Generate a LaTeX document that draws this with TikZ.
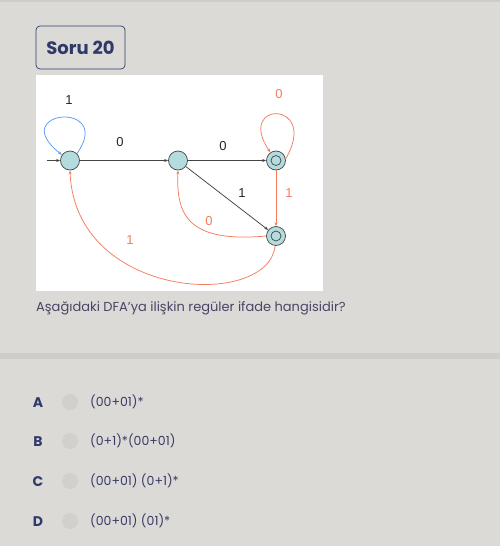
\documentclass[tikz,border=0pt]{standalone}
\usepackage{fontspec}
\setmainfont{Poppins}
\newfontfamily\arialfont{Liberation Sans}
\usetikzlibrary{positioning, arrows.meta}

\definecolor{pagebg}{HTML}{DBDAD6}
\definecolor{bandgray}{HTML}{CFCDCA}
\definecolor{navy}{HTML}{2F3A6B}
\definecolor{qtext}{HTML}{4B4466}
\definecolor{opttext}{HTML}{3A3A66}
\definecolor{radiogray}{HTML}{D2D0CD}
\definecolor{statefill}{HTML}{B4DCDF}
\definecolor{edgered}{HTML}{F47C5E}
\definecolor{edgeblue}{HTML}{5B9CF2}
\definecolor{edgedark}{HTML}{444444}

\begin{document}
\begin{tikzpicture}[
        x=1pt, y=-1pt,
        state/.style={circle, draw=edgedark, fill=statefill, line width=0.7pt, minimum size=19pt, inner sep=0pt},
        accept/.style={state, path picture={\draw[edgedark, line width=0.7pt] (path picture bounding box.center) circle (5pt);}},
        darkedge/.style={-{Stealth[length=4pt, width=3pt]}, edgedark, line width=0.75pt},
        rededge/.style={-{Stealth[length=4pt, width=3pt]}, edgered, line width=0.75pt},
        blueedge/.style={-{Stealth[length=4pt, width=3pt]}, edgeblue, line width=0.75pt},
        lbl/.style={font=\arialfont\fontsize{13}{15}\selectfont, text=black!85},
        redlbl/.style={lbl, text=edgered},
        letter/.style={font=\bfseries\fontsize{14}{16}\selectfont, text=navy},
        radio/.style={circle, fill=radiogray, minimum size=16pt, inner sep=0pt},
        option/.style={anchor=west, font=\fontsize{12.5}{15}\selectfont, text=opttext, inner sep=0pt},
    ]
        \useasboundingbox (0,0) rectangle (500,546);
        \fill[pagebg] (0,0) rectangle (500,546);
        \fill[bandgray] (0,0) rectangle (500,2);
        \fill[bandgray] (0,353) rectangle (500,359);

        % header
        \node[draw=navy, rounded corners=4pt, line width=0.7pt, minimum width=89pt, minimum height=43pt,
              font=\bfseries\fontsize{18}{21}\selectfont, text=navy] (title) at (80.5,47.5) {Soru 20};

        % automaton picture
        \fill[white] (36,75) rectangle (323,291);

        \node[state] (q0) at (70,160.5) {};
        \node[state] (q1) at (178,160.5) {};
        \node[accept] (q2) at (276,160.5) {};
        \node[accept] (q3) at (276,236) {};
        \coordinate (start) at (47,160.5);

        \draw[darkedge] (start) -- (q0);
        \draw[darkedge] (q0) -- (q1);
        \draw[darkedge] (q1) -- (q2);
        \draw[darkedge] (q1) -- (q3);
        \draw[rededge] (q2) -- (q3);
        \draw[blueedge] (q0.45) .. controls (115,100) and (5,110) .. (q0.145);
        \draw[rededge] (q2.10) .. controls (320,100) and (235,100) .. (q2.125);
        \draw[rededge] (q3.west) .. controls (188,243) and (176,215) .. (q1.south);
        \draw[rededge] (q3.265) .. controls (268,310) and (75,300) .. (q0.south);

        \node[lbl] (l1) at (69,100) {1};
        \node[lbl] (l2) at (120,142) {0};
        \node[lbl] (l3) at (223,146) {0};
        \node[lbl] (l4) at (242,193) {1};
        \node[redlbl] (l5) at (279,94) {0};
        \node[redlbl] (l6) at (289,193) {1};
        \node[redlbl] (l7) at (209,221) {0};
        \node[redlbl] (l8) at (130,240) {1};

        \node[anchor=base west, inner sep=0pt, font=\fontsize{13}{16}\selectfont, text=qtext] (question) at (36,311)
            {Aşağıdaki DFA’ya ilişkin regüler ifade hangisidir?};

        % choices
        \foreach \ltr/\ypos/\txt in {A/403/{(00+01)*}, B/442/{(0+1)*(00+01)}, C/482/{(00+01) (0+1)*}, D/522/{(00+01) (01)*}} {
            \node[letter] (let\ltr) at (38,\ypos) {\ltr};
            \node[radio] (rad\ltr) at (70,\ypos-1) {};
            \node[option] (opt\ltr) at (90,\ypos-1) {\txt};
        }
    \end{tikzpicture}
\end{document}
